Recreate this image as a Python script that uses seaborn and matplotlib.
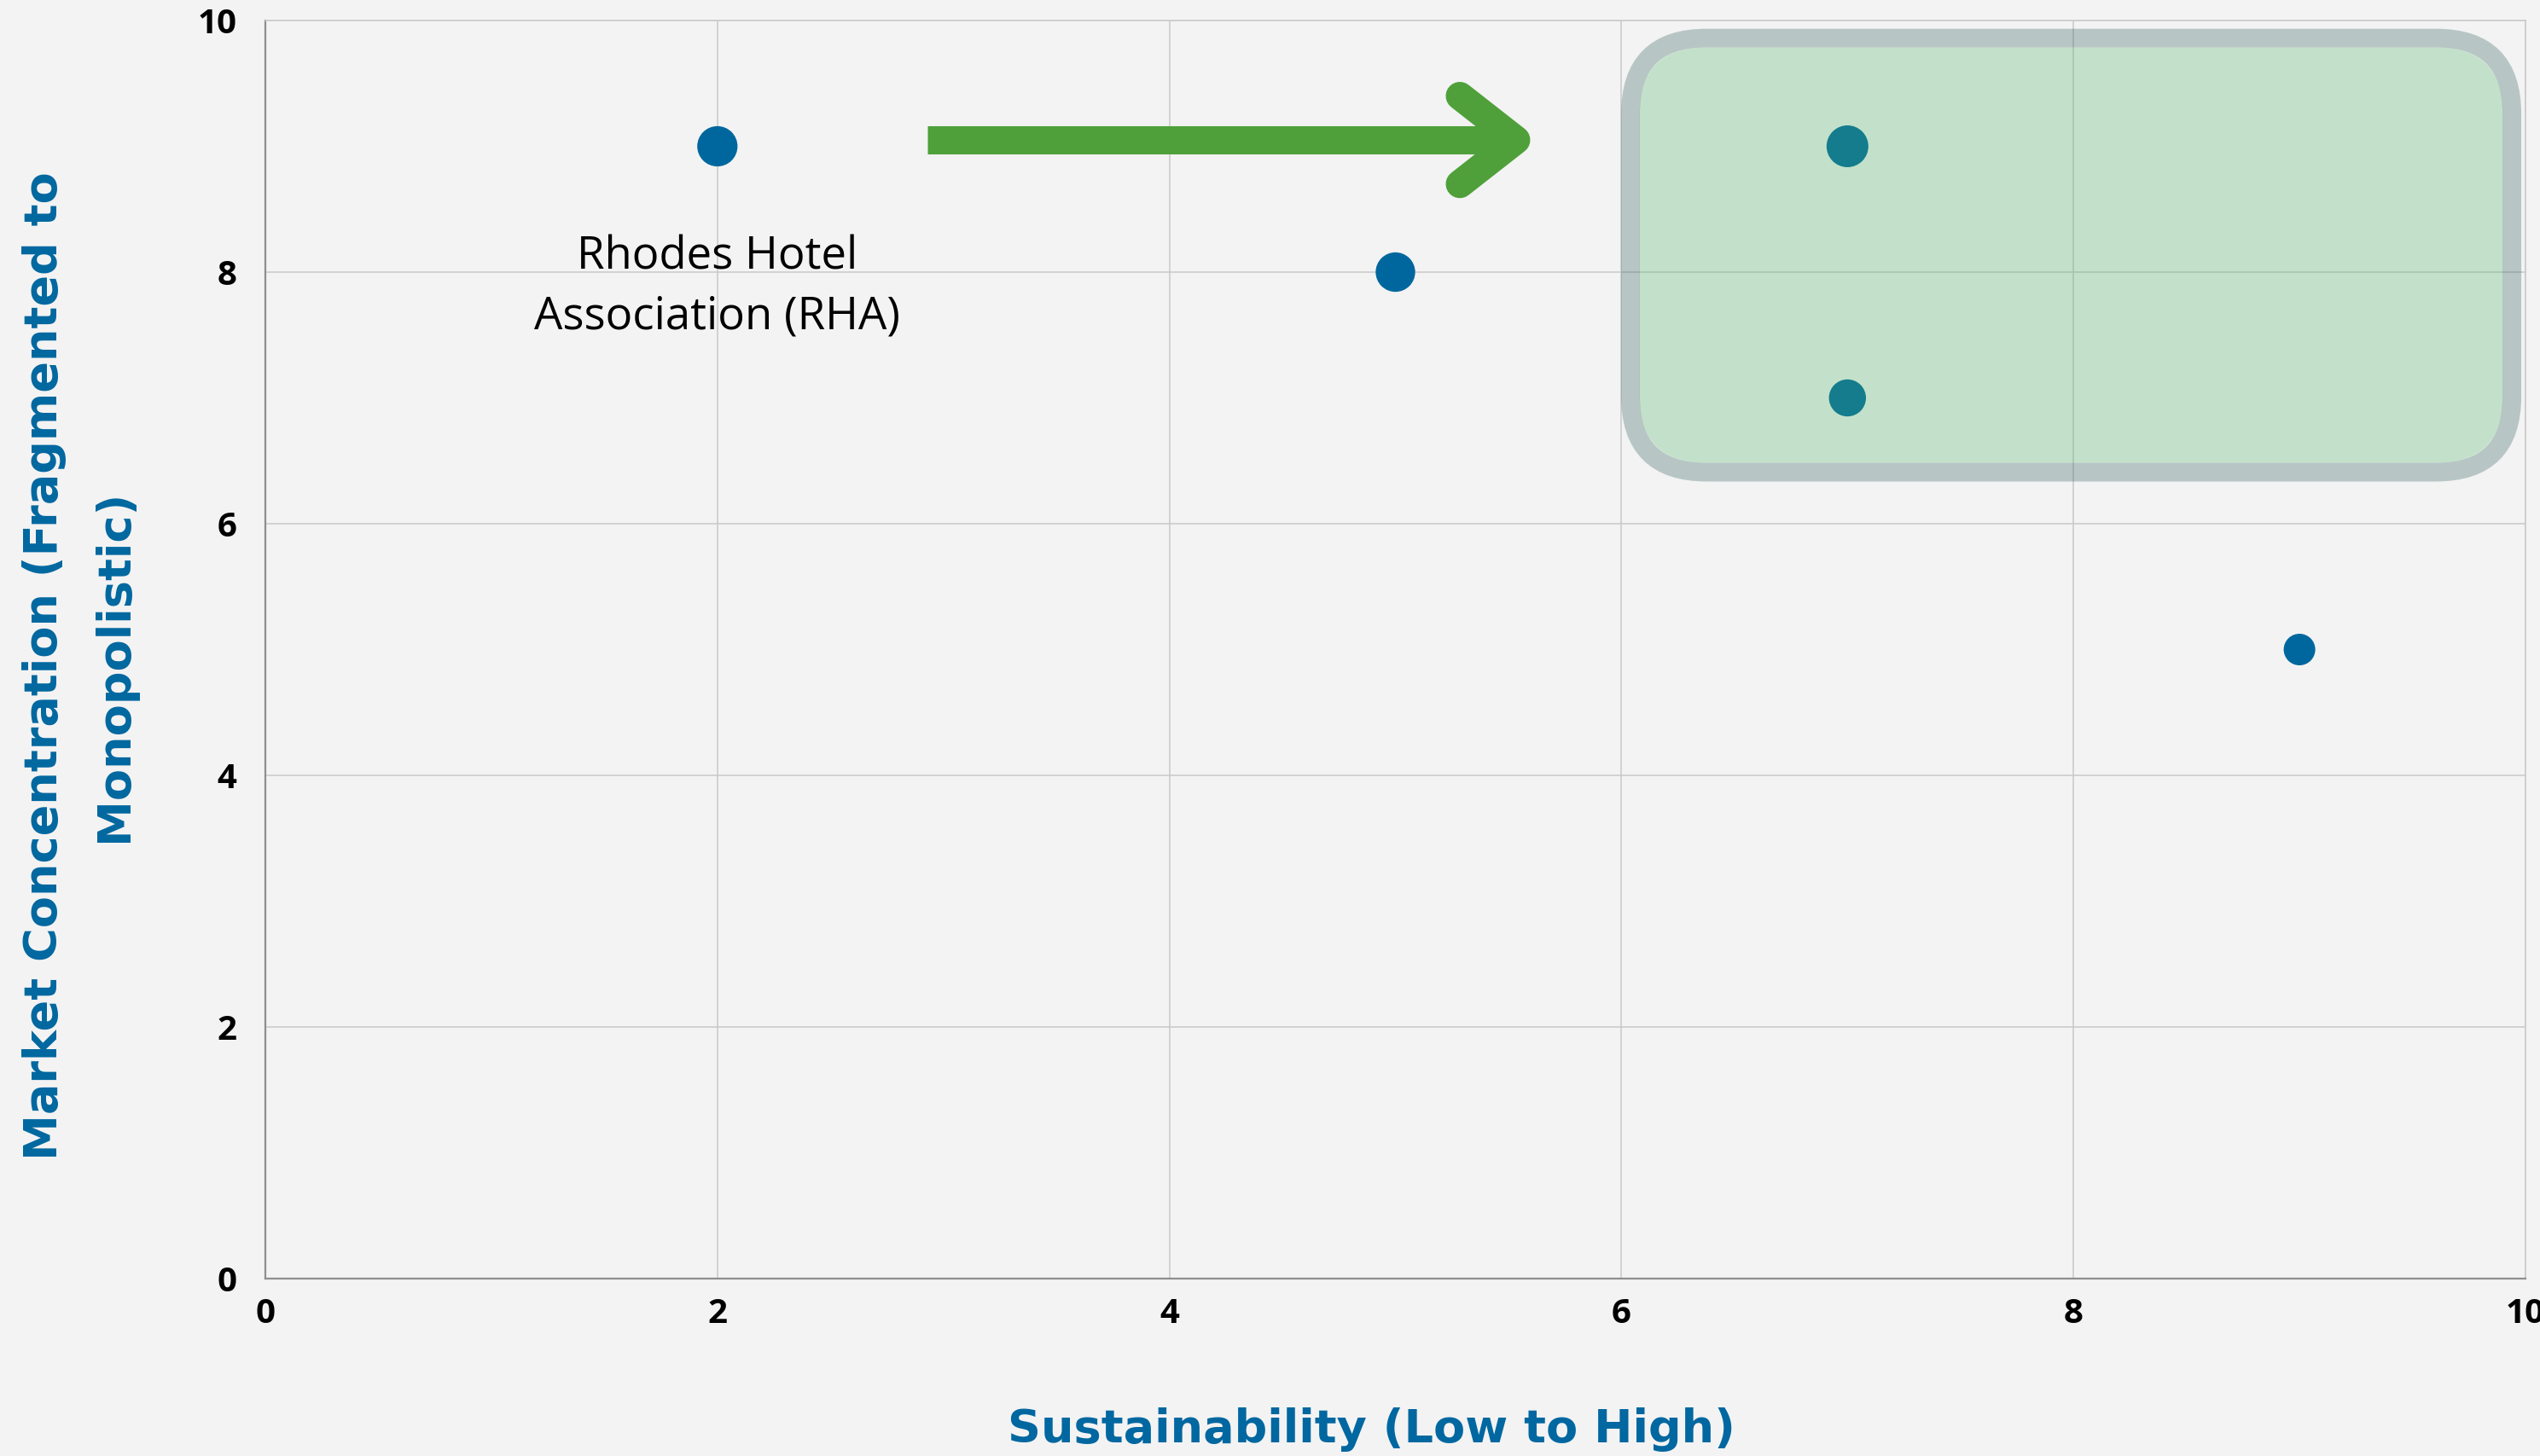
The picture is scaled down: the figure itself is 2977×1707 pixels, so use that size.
import matplotlib
matplotlib.use("Agg")
import matplotlib.pyplot as plt
import pandas as pd
import seaborn as sns
from matplotlib.patches import FancyBboxPatch

# Positioning of stakeholders: sustainability vs. market concentration
sustainability = [2, 5, 7, 7, 9]
concentration = [9, 8, 9, 7, 5]
influence = [8, 7.5, 9, 6, 3]

x_ticks = [0, 2, 4, 6, 8, 10]
y_ticks = [0, 2, 4, 6, 8, 10]

x_title = "Sustainability (Low to High)"
y_title = "Market Concentration (Fragmented to\nMonopolistic)"
rha_label = "Rhodes Hotel\nAssociation (RHA)"

BG = "#F3F3F3"
BLUE = "#00679E"
LABEL_BLUE = "#0067A0"
GREEN = "#4FA03A"

sns.set_theme(style="whitegrid")
plt.rcParams["font.family"] = ["Open Sans", "DejaVu Sans"]

fig = plt.figure(figsize=(29.77, 17.07), dpi=100, facecolor=BG)
ax = fig.add_axes([0.10447, 0.12185, 0.88982, 0.86409])
ax.set_facecolor(BG)

df = pd.DataFrame({"sustainability": sustainability,
                   "concentration": concentration,
                   "influence": influence})

sns.scatterplot(data=df, x="sustainability", y="concentration",
                size="influence", sizes=(710, 1245), size_norm=(3, 9),
                color=BLUE, edgecolor="none", linewidth=0,
                legend=False, ax=ax, zorder=3)

ax.set_xlim(0, 10)
ax.set_ylim(0, 10)
ax.set_xticks(x_ticks)
ax.set_yticks(y_ticks)
ax.set_xticklabels([str(t) for t in x_ticks])
ax.set_yticklabels([str(t) for t in y_ticks])

ax.grid(True, color="#C9C9C9", linewidth=1.1)
ax.set_axisbelow(True)
for side in ["top", "right"]:
    ax.spines[side].set_color("#C9C9C9")
    ax.spines[side].set_linewidth(1.1)
for side in ["left", "bottom"]:
    ax.spines[side].set_color("#8E8E8E")
    ax.spines[side].set_linewidth(1.6)

ax.tick_params(axis="both", length=0, labelsize=29, labelcolor="black")
ax.tick_params(axis="x", pad=16)
ax.tick_params(axis="y", pad=24)
for lab in ax.get_xticklabels() + ax.get_yticklabels():
    lab.set_fontweight("bold")

# Highlight zone: rounded box with soft green fill and grey outline
aspect = 1.796
ax.add_patch(FancyBboxPatch((6.08, 6.485), 3.82, 3.30,
                            boxstyle="round,pad=0,rounding_size=0.294",
                            mutation_aspect=aspect,
                            facecolor=(0.29, 0.71, 0.39, 0.28),
                            edgecolor="none", zorder=4))
ax.add_patch(FancyBboxPatch((6.04, 6.41), 3.90, 3.45,
                            boxstyle="round,pad=0,rounding_size=0.336",
                            mutation_aspect=aspect,
                            facecolor="none",
                            edgecolor=(0.18, 0.38, 0.36, 0.3),
                            linewidth=15.8, zorder=4))

# Direction arrow
ax.plot([2.93, 5.534], [9.05, 9.05], color=GREEN, linewidth=23.8,
        solid_capstyle="butt", zorder=5)
ax.plot([5.285, 5.534, 5.285], [9.40, 9.05, 8.70], color=GREEN,
        linewidth=23.8, solid_capstyle="round", solid_joinstyle="round",
        zorder=5)

ax.text(2, 7.88, rha_label, ha="center", va="center", fontsize=38,
        color="black", linespacing=1.4, zorder=6)

# Axis titles, placed in figure coordinates on their baselines
ax.set_xlabel(x_title, fontsize=39, fontweight="bold", color=LABEL_BLUE,
              family="DejaVu Sans")
ax.xaxis.set_label_coords(0.540, 0.0095, transform=fig.transFigure)
ax.xaxis.label.set_va("baseline")
ax.set_ylabel(y_title, fontsize=39, fontweight="bold", color=LABEL_BLUE,
              family="DejaVu Sans", linespacing=1.72)
ax.yaxis.set_label_coords(-0.057, 0.487)

fig.savefig("out.png", dpi=100, facecolor=BG)
